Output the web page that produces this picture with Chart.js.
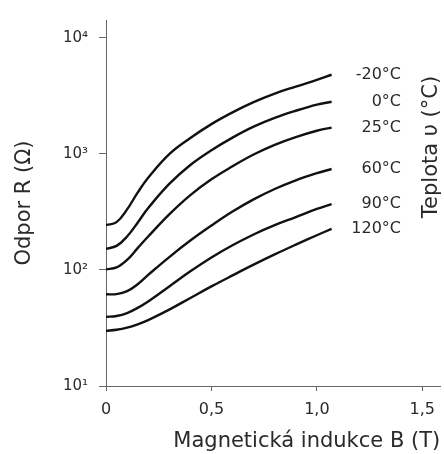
<!DOCTYPE html>
<html>
<head>
<meta charset="utf-8">
<script src="https://cdn.jsdelivr.net/npm/chart.js@4"></script>
<style>
    html, body { margin: 0; padding: 0; background: #fff; }
</style>
</head>
<body>
<canvas id="chart" width="444" height="454"></canvas>
<script>
// magnetic induction B (T) where the curves were read
const inductionB = [0, 0.05, 0.1, 0.15, 0.2, 0.3, 0.4, 0.5, 0.6, 0.7, 0.8, 0.9, 1.0, 1.07];

const temperatureLabels = ['-20°C', '0°C', '25°C', '60°C', '90°C', '120°C'];

// resistance R (ohm) for each temperature
const resistanceM20 = [243, 258, 332, 463, 621, 993, 1368, 1803, 2275, 2786, 3304, 3795, 4335, 4800];
const resistance0 = [152, 161, 194, 255, 341, 551, 802, 1074, 1380, 1715, 2041, 2350, 2653, 2808];
const resistance25 = [101, 105, 122, 154, 194, 301, 441, 603, 781, 986, 1195, 1394, 1580, 1683];
const resistance60 = [61.7, 61.9, 65.6, 75.3, 90.6, 129, 179, 241, 318, 405, 498, 592, 682, 740];
const resistance90 = [39.4, 40.1, 42.5, 47.1, 53.5, 72.1, 97.2, 128, 163, 202, 243, 285, 335, 369];
const resistance120 = [29.9, 30.5, 31.8, 34.0, 37.0, 45.5, 57.3, 72.1, 89.7, 111, 136, 165, 199, 226];

const xTicks = [0, 0.5, 1.0, 1.5];
const xTickLabels = ['0', '0,5', '1,0', '1,5'];
const yTicks = [10, 100, 1000, 10000];
const yTickLabels = ['10¹', '10²', '10³', '10⁴'];

const fontFamily = '"DejaVu Sans", "Liberation Sans", Arial, sans-serif';
const textColor = '#2a2a2a';
const axisColor = '#666';

function toPoints(values) {
    return inductionB.map((b, i) => ({ x: b, y: values[i] }));
}

const allSeries = [resistanceM20, resistance0, resistance25, resistance60, resistance90, resistance120];

const datasets = allSeries.map((values, i) => ({
    label: temperatureLabels[i],
    data: toPoints(values),
    borderColor: '#111',
    borderWidth: 2.4,
    pointRadius: 0,
    fill: false,
    tension: 0.4
}));

// curve names at the line ends and the right-hand title
const curveLabels = {
    id: 'curveLabels',
    afterDatasetsDraw(chart) {
        const ctx = chart.ctx;
        ctx.save();
        ctx.fillStyle = textColor;
        ctx.font = '16px ' + fontFamily;
        ctx.textAlign = 'right';
        ctx.textBaseline = 'middle';
        chart.data.datasets.forEach((ds, i) => {
            const meta = chart.getDatasetMeta(i);
            const last = meta.data[meta.data.length - 1];
            ctx.fillText(temperatureLabels[i], 401, last.y);
        });

        ctx.translate(432, 147);
        ctx.rotate(-Math.PI / 2);
        ctx.textAlign = 'center';
        ctx.font = '21px ' + fontFamily;
        ctx.fillText('Teplota υ (°C)', 0, 0);
        ctx.restore();
    }
};

new Chart(document.getElementById('chart'), {
    type: 'line',
    data: { datasets: datasets },
    plugins: [curveLabels],
    options: {
        responsive: false,
        animation: false,
        layout: { padding: { top: 15, right: 0, left: 0, bottom: 0 } },
        plugins: {
            legend: { display: false },
            tooltip: { enabled: false }
        },
        scales: {
            x: {
                type: 'linear',
                min: 0,
                max: 1.585,
                afterBuildTicks: scale => {
                    scale.ticks = xTicks.map(v => ({ value: v }));
                },
                afterFit: scale => {
                    scale.height = 68;
                },
                border: { display: true, color: axisColor, width: 1 },
                grid: { drawOnChartArea: false, color: axisColor, tickLength: 5 },
                ticks: {
                    color: textColor,
                    padding: 9,
                    maxRotation: 0,
                    font: { family: fontFamily, size: 16 },
                    callback: (value, index) => xTickLabels[index]
                },
                title: {
                    display: true,
                    text: 'Magnetická indukce B (T)',
                    align: 'end',
                    color: textColor,
                    font: { family: fontFamily, size: 21 },
                    padding: { top: 0, bottom: 0 }
                }
            },
            y: {
                type: 'logarithmic',
                min: 10,
                max: 14220,
                afterBuildTicks: scale => {
                    scale.ticks = yTicks.map(v => ({ value: v }));
                },
                afterFit: scale => {
                    scale.width = 106;
                },
                border: { display: true, color: axisColor, width: 1 },
                grid: { drawOnChartArea: false, color: axisColor, tickLength: 7 },
                ticks: {
                    color: textColor,
                    padding: 11,
                    font: { family: fontFamily, size: 15 },
                    callback: (value, index) => yTickLabels[index]
                },
                title: {
                    display: true,
                    text: 'Odpor R (Ω)',
                    color: textColor,
                    font: { family: fontFamily, size: 21 },
                    padding: { top: 12, bottom: 0 }
                }
            }
        }
    }
});
</script>
</body>
</html>
